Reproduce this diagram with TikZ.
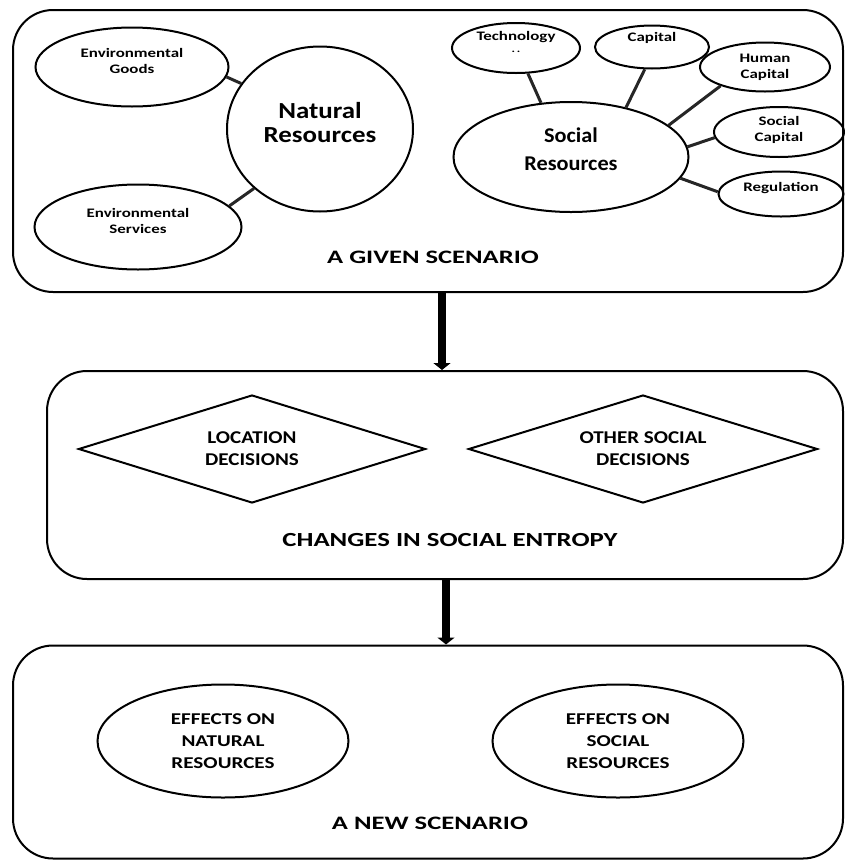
\documentclass[tikz,border=0pt]{standalone}
\usepackage{fontspec}
\setmainfont{Carlito}
\usetikzlibrary{shapes.geometric,arrows.meta}
\newcommand{\fsz}[3]{\bfseries\fontsize{#1}{#2}\selectfont\addfontfeature{FakeStretch=#3}}
\tikzset{
  bigbox/.style={draw, line width=2pt, rounded corners=40pt, inner sep=0pt},
  ell/.style={draw, ellipse, line width=2pt, inner sep=0pt},
  etxt/.style={inner sep=0pt, align=center, font=\fsz{13}{16}{1.3}},
  dia/.style={draw, diamond, aspect=3.2, line width=2pt, inner sep=0pt, align=center, font=\fsz{18}{22}{1.17}},
  eff/.style={draw, ellipse, line width=2pt, inner sep=0pt, align=center, font=\fsz{16.5}{22}{1.28}, minimum width=251pt, minimum height=113pt},
  conn/.style={line width=3pt, black!85},
  arr/.style={line width=7.5pt, -{Triangle[width=17pt,length=7pt]}},
  lbl/.style={font=\fsz{19}{22}{1.4}, inner sep=0pt}
}
\begin{document}
\begin{tikzpicture}[x=1pt,y=-1pt]
\useasboundingbox (0,0) rectangle (844,860);
% boxes
\node[bigbox, minimum width=830pt, minimum height=282pt] (given) at (428,151) {};
\node[bigbox, minimum width=796pt, minimum height=208pt] (changes) at (445,475) {};
\node[bigbox, minimum width=830pt, minimum height=213pt] (new) at (428,752) {};
% top left
\node[ell, minimum width=186pt, minimum height=165pt] (nr) at (320,129) {};
\node[etxt, font=\fsz{23}{24}{1.17}, yshift=6pt] (nrt) at (nr) {Natural\\Resources};
\node[ell, minimum width=193pt, minimum height=79pt] (eg) at (132,67) {};
\node[etxt, yshift=6pt] (egt) at (eg) {Environmental\\Goods};
\node[ell, minimum width=207pt, minimum height=85pt] (es) at (138,227) {};
\node[etxt, yshift=6pt] (est) at (es) {Environmental\\Services};
\draw[conn] (eg.-6) -- (nr.150);
\draw[conn] (es.13) -- (nr.-138);
% top right
\node[ell, minimum width=235pt, minimum height=110pt] (sr) at (571,157) {};
\node[etxt, font=\fsz{21}{28}{1.06}, yshift=8pt] (srt) at (sr) {Social\\Resources};
\node[ell, minimum width=128pt, minimum height=50pt] (tech) at (516,48) {};
\node[etxt, yshift=6pt] (techt) at (tech) {Technology\\[-4pt]{\fontsize{10}{10}\selectfont .\,.}};
\node[ell, minimum width=114pt, minimum height=43pt] (cap) at (652,47) {};
\node[etxt, yshift=9pt] (capt) at (cap) {Capital};
\node[ell, minimum width=130pt, minimum height=49pt] (hum) at (765,67) {};
\node[etxt, yshift=0pt] (humt) at (hum) {Human\\Capital};
\node[ell, minimum width=130pt, minimum height=50pt] (soc) at (779,132) {};
\node[etxt, yshift=2pt] (soct) at (soc) {Social\\Capital};
\node[ell, minimum width=125pt, minimum height=45pt] (reg) at (781,194) {};
\node[etxt, yshift=6pt] (regt) at (reg) {Regulation};
\draw[conn] (tech.-65) -- (sr.119);
\draw[conn] (cap.-108) -- (sr.42);
\draw[conn] (hum.-157) -- (sr.18);
\draw[conn] (soc.-175) -- (sr.5);
\draw[conn] (reg.178) -- (sr.-11);
\node[lbl] (gl) at (433,257) {A GIVEN SCENARIO};
% middle
\node[dia, minimum width=347pt, minimum height=108pt] (loc) at (252,449) {LOCATION\\DECISIONS};
\node[dia, minimum width=349pt, minimum height=108pt] (oth) at (643,449) {OTHER SOCIAL\\DECISIONS};
\node[lbl, font=\fsz{20}{22}{1.34}] (cl) at (450,540) {CHANGES IN SOCIAL ENTROPY};
% bottom
\node[eff] (en) at (223,741) {EFFECTS ON\\NATURAL\\RESOURCES};
\node[eff] (esr) at (618,741) {EFFECTS ON\\SOCIAL\\RESOURCES};
\node[lbl] (nl) at (430,823) {A NEW SCENARIO};
% arrows
\draw[arr] (given.south -| 442,0) -- (changes.north -| 442,0);
\draw[arr] (changes.south -| 446,0) -- (new.north -| 446,0);
\end{tikzpicture}
\end{document}
